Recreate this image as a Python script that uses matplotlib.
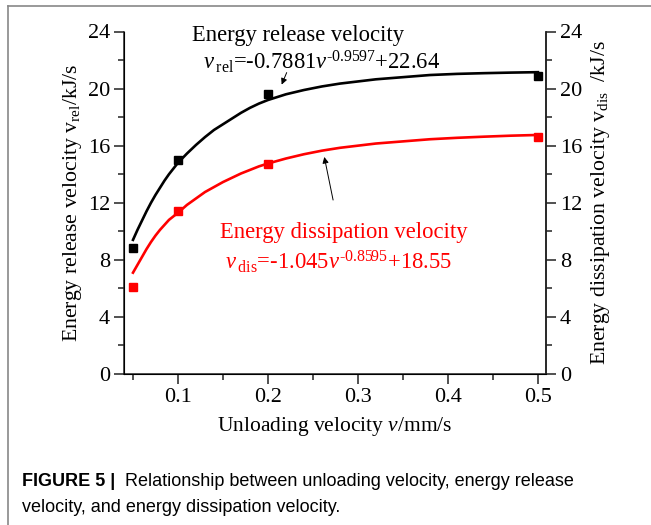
import matplotlib
matplotlib.use("Agg")
import matplotlib.pyplot as plt
from matplotlib.lines import Line2D
from matplotlib.ticker import MultipleLocator

# measured points
v_pts = [0.05, 0.1, 0.2, 0.5]
rel_pts = [8.8, 15.0, 19.6, 20.9]
dis_pts = [6.1, 11.4, 14.7, 16.6]

# fitted curves
v_fit = [0.05, 0.055, 0.06, 0.065, 0.07, 0.075, 0.08, 0.085, 0.09, 0.095,
         0.10, 0.11, 0.12, 0.13, 0.14, 0.15, 0.16, 0.17, 0.18, 0.19,
         0.20, 0.22, 0.24, 0.26, 0.28, 0.30, 0.32, 0.35, 0.38, 0.41,
         0.44, 0.47, 0.50]
rel_fit = [9.4, 10.1, 10.75, 11.4, 12.0, 12.55, 13.05, 13.55, 14.0, 14.4,
           14.8, 15.45, 16.05, 16.6, 17.1, 17.5, 17.9, 18.3, 18.65, 18.95,
           19.2, 19.6, 19.9, 20.15, 20.35, 20.5, 20.65, 20.8, 20.95, 21.03,
           21.08, 21.12, 21.15]
dis_fit = [7.1, 7.65, 8.2, 8.75, 9.25, 9.7, 10.1, 10.45, 10.8, 11.05,
           11.3, 11.85, 12.3, 12.75, 13.1, 13.45, 13.75, 14.05, 14.3, 14.55,
           14.75, 15.1, 15.4, 15.65, 15.85, 16.0, 16.15, 16.3, 16.45, 16.55,
           16.63, 16.7, 16.75]

x_ticks = [0.1, 0.2, 0.3, 0.4, 0.5]
y_ticks = [0, 4, 8, 12, 16, 20, 24]

plt.rcParams['font.family'] = 'Liberation Serif'
plt.rcParams['mathtext.fontset'] = 'custom'
plt.rcParams['mathtext.rm'] = 'Liberation Serif'
plt.rcParams['mathtext.it'] = 'Liberation Serif:italic'

fig = plt.figure(figsize=(6.51, 5.25), dpi=100)
ax = fig.add_axes([124/651, 1-374/525, (546-124)/651, (374-31.5)/525])

ax.plot(v_fit, rel_fit, color='black', lw=1.9)
ax.plot(v_fit, dis_fit, color='red', lw=1.9)
ax.plot(v_pts, rel_pts, 's', color='black', ms=6)
ax.plot(v_pts, dis_pts, 's', color='red', ms=6)

ax.set_xlim(0.04, 0.509)
ax.set_ylim(0, 24)
ax.set_xticks(x_ticks)
ax.set_xticklabels([str(t) for t in x_ticks])
ax.xaxis.set_minor_locator(MultipleLocator(0.05))
ax.set_yticks(y_ticks)
ax.yaxis.set_minor_locator(MultipleLocator(2))
ax.spines['top'].set_visible(False)
for s in ['left', 'right', 'bottom']:
    ax.spines[s].set_linewidth(1.1)
    ax.spines[s].set_color('#222222')
ax.tick_params(which='major', direction='out', length=7, width=1.1, labelsize=16, pad=3, color='#222222')
ax.tick_params(which='minor', direction='out', length=4, width=1.1, color='#222222')
ax.tick_params(axis='y', which='both', right=False)

ax2 = ax.twinx()
ax2.set_ylim(0, 24)
ax2.set_yticks(y_ticks)
ax2.yaxis.set_minor_locator(MultipleLocator(2))
ax2.spines['top'].set_visible(False)
ax2.spines['right'].set_linewidth(1.1)
ax2.spines['right'].set_color('#222222')
ax2.tick_params(which='major', direction='out', length=7, width=1.1, labelsize=16, pad=3, color='#222222')
ax2.tick_params(which='minor', direction='out', length=4, width=1.1, color='#222222')

ax.set_xlabel(r'Unloading velocity $v$/mm/s', fontsize=15.5, labelpad=6)
ax.set_ylabel(r'Energy release velocity $\mathrm{v}_{\mathrm{rel}}$/kJ/s', fontsize=15.7, labelpad=3)
ax2.set_ylabel(r'Energy dissipation velocity $\mathrm{v}_{\mathrm{dis}}$  /kJ/s', fontsize=15.7, labelpad=5)

ax.text(0.234, 23.75, 'Energy release velocity', fontsize=16.3, ha='center', va='center')
ax.text(0.26, 21.9, '$v\\,{}_{\\mathrm{rel}}$=-0.7881$v^{\u20100.9597}$+22.64',
        fontsize=16.3, ha='center', va='center')
ax.annotate('', xy=(0.214, 20.1), xytext=(0.222, 21.3),
            arrowprops=dict(arrowstyle='-|>', color='black', lw=0.7, mutation_scale=9))

ax.text(0.284, 9.95, 'Energy dissipation velocity', fontsize=16.3, color='red', ha='center', va='center')
ax.text(0.278, 7.85, '$v\\,{}_{\\mathrm{dis}}$=-1.045$v^{\u20100.8595}$+18.55',
        fontsize=16.3, color='red', ha='center', va='center')
ax.annotate('', xy=(0.262, 15.4), xytext=(0.273, 12.0),
            arrowprops=dict(arrowstyle='-|>', color='black', lw=0.7, mutation_scale=9))

# grey frame round the figure panel
fig.add_artist(Line2D([8/651, 1], [1-6/525, 1-6/525], color='#888888', lw=1.2))
fig.add_artist(Line2D([8/651, 8/651], [0, 1-6/525], color='#888888', lw=1.2))

fig.text(22/651, 1-481/525, 'FIGURE 5 |', fontsize=13, fontweight='bold',
         family='Liberation Sans', va='center')
fig.text(125/651, 1-481/525, 'Relationship between unloading velocity, energy release',
         fontsize=13, family='Liberation Sans', va='center')
fig.text(22/651, 1-508/525, 'velocity, and energy dissipation velocity.',
         fontsize=13, family='Liberation Sans', va='center')

fig.savefig('out.png', dpi=100)
